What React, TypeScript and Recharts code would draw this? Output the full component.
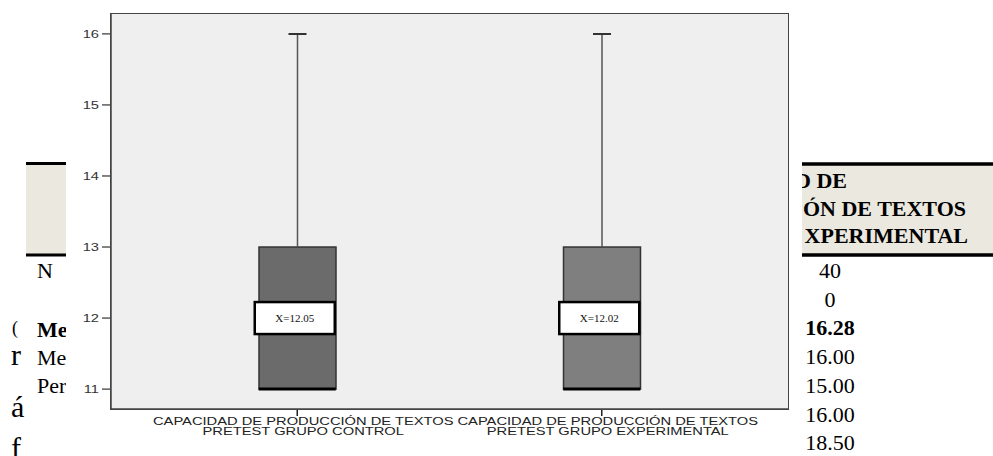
import React from "react";
import { ComposedChart, Bar, Line, XAxis, YAxis, CartesianGrid } from "recharts";

// boxplot values per group
const labelTop = ["CAPACIDAD DE PRODUCCIÓN DE TEXTOS", "CAPACIDAD DE PRODUCCIÓN DE TEXTOS"];
const labelBottom = ["PRETEST GRUPO CONTROL", "PRETEST GRUPO EXPERIMENTAL"];
const minimum = [11, 11];
const lowerQuartile = [11, 11];
const median = [11, 11];
const upperQuartile = [13, 13];
const maximum = [16, 16];
const means = [12.05, 12.02];
const yTicks = [11, 12, 13, 14, 15, 16];

// document text showing around the chart (cut by it)
const headerLines = ["D DE", "ÓN DE TEXTOS", "XPERIMENTAL"];
const tableValues = ["40", "0", "16.28", "16.00", "15.00", "16.00", "18.50"];
const rowLabels = ["Me", "Me", "Per"];
const sideLetters = ["(", "r", "á", "f"];

const boxFills = ["#6b6b6b", "#7f7f7f"];

const data = labelTop.map((t, i) => ({
  name: t + " " + labelBottom[i],
  pad: minimum[i],
  lower: lowerQuartile[i] - minimum[i],
  box: upperQuartile[i] - lowerQuartile[i],
  upper: maximum[i] - upperQuartile[i],
  median: median[i],
  mid: (lowerQuartile[i] + upperQuartile[i]) / 2,
}));

const XTick = (props: any) => {
  const { x, y, payload } = props;
  const i = payload.index;
  return (
    <g transform={`translate(${x + 6},${y})`}>
      <text transform="scale(1.28,1)" textAnchor="middle" y={7} fontSize={11.5} fontFamily="Liberation Sans" fill="#222">
        {labelTop[i]}
      </text>
      <text transform="scale(1.28,1)" textAnchor="middle" y={17} fontSize={11.5} fontFamily="Liberation Sans" fill="#222">
        {labelBottom[i]}
      </text>
    </g>
  );
};

const YTick = (props: any) => {
  const { x, y, payload } = props;
  return (
    <g transform={`translate(${x},${y})`}>
      <text transform="scale(1.4,1)" textAnchor="end" dy="0.36em" fontSize={10.5} fontFamily="Liberation Sans" fill="#333">
        {payload.value}
      </text>
    </g>
  );
};

const BoxShape = (props: any) => {
  const { x, y, width, height, index } = props;
  return <rect x={x} y={y} width={width} height={height} fill={boxFills[index]} stroke="#333" strokeWidth={1.5} />;
};

const UpperWhisker = (props: any) => {
  const { x, y, width, height } = props;
  const cx = x + width / 2;
  return (
    <g>
      <line x1={cx} x2={cx} y1={y + height} y2={y} stroke="#555" strokeWidth={1.5} />
      <line x1={cx - 9} x2={cx + 9} y1={y} y2={y} stroke="#333" strokeWidth={2} />
    </g>
  );
};

const LowerWhisker = (props: any) => {
  const { x, y, width, height } = props;
  if (!height) return null;
  const cx = x + width / 2;
  return (
    <g>
      <line x1={cx} x2={cx} y1={y} y2={y + height} stroke="#555" strokeWidth={1.5} />
      <line x1={cx - 9} x2={cx + 9} y1={y + height} y2={y + height} stroke="#333" strokeWidth={2} />
    </g>
  );
};

const MedianDot = (props: any) => {
  const { cx, cy, index } = props;
  if (cx == null || cy == null) return null;
  return <line key={`med-${index}`} x1={cx - 38.5} x2={cx + 38.5} y1={cy} y2={cy} stroke="#000" strokeWidth={3} />;
};

const MeanLabel = (props: any) => {
  const { cx, cy, index } = props;
  if (cx == null || cy == null) return null;
  return (
    <g key={`mean-${index}`}>
      <rect x={cx - 42.5} y={cy - 16} width={80} height={32} fill="#fff" stroke="#000" strokeWidth={2.5} />
      <text x={cx - 2.5} y={cy} dy="0.35em" textAnchor="middle" fontFamily="Liberation Serif" fontSize={11} fill="#111">
        X={means[index].toFixed(2)}
      </text>
    </g>
  );
};

const Background = () => (
  <svg width={993} height={456} style={{ position: "absolute", left: 0, top: 0 }} fontFamily="Liberation Serif">
    <rect x={26} y={163} width={60} height={92} fill="#ebe8df" />
    <line x1={26} x2={86} y1={163.5} y2={163.5} stroke="#000" strokeWidth={3} />
    <line x1={26} x2={86} y1={255} y2={255} stroke="#000" strokeWidth={3} />
    <rect x={790} y={163} width={203} height={92} fill="#ebe8df" />
    <line x1={790} x2={993} y1={164} y2={164} stroke="#000" strokeWidth={3.5} />
    <line x1={790} x2={993} y1={255} y2={255} stroke="#000" strokeWidth={3.5} />
    {headerLines.map((t, i) => (
      <text key={t} x={[847, 966, 968][i]} y={188 + i * 27.5} textAnchor="end" fontSize={22} fontWeight="bold" fill="#000">
        {t}
      </text>
    ))}
    {tableValues.map((v, i) => (
      <text key={i} x={830} y={278 + i * 28.7} textAnchor="middle" fontSize={22} fontWeight={i === 2 ? "bold" : "normal"} fill="#000">
        {v}
      </text>
    ))}
    <text x={37} y={278} fontSize={22} fill="#000">N</text>
    {rowLabels.map((t, i) => (
      <text key={i} x={37} y={337 + i * 28} fontSize={22} fontWeight={i === 0 ? "bold" : "normal"} fill="#000">
        {t}
      </text>
    ))}
    {sideLetters.map((t, i) => (
      <text key={i} x={i === 0 ? 12 : 11} y={[334, 365, 417, 458][i]} fontSize={i === 0 ? 18 : 30} fill="#000">
        {t}
      </text>
    ))}
  </svg>
);

export default function App() {
  const axisStroke = { stroke: "#444", strokeWidth: 1.5 };
  return (
    <div style={{ position: "absolute", left: 0, top: 0, width: 993, height: 456, background: "#fff", overflow: "hidden" }}>
      <Background />
      <div style={{ position: "absolute", left: 66, top: 0, width: 736, height: 456, background: "#fff" }}>
        <ComposedChart width={736} height={456} data={data} margin={{ top: 14, right: 14, bottom: 0, left: 0 }}>
          <CartesianGrid fill="#efefef" stroke="none" horizontal={false} vertical={false} />
          <XAxis
            dataKey="name"
            type="category"
            padding={{ left: 34, right: 34 }}
            height={47}
            tickSize={7}
            tickMargin={2}
            interval={0}
            tick={<XTick />}
            axisLine={axisStroke}
            tickLine={{ stroke: "#222", strokeWidth: 1.5 }}
          />
          <YAxis
            type="number"
            domain={[10.72, 16.28]}
            allowDataOverflow
            ticks={yTicks}
            width={45}
            tickSize={9}
            tickMargin={3}
            tick={<YTick />}
            axisLine={axisStroke}
            tickLine={{ stroke: "#333", strokeWidth: 1.2 }}
          />
          <Bar stackId="b" dataKey="pad" fill="none" barSize={77} isAnimationActive={false} />
          <Bar stackId="b" dataKey="lower" shape={<LowerWhisker />} barSize={77} isAnimationActive={false} />
          <Bar stackId="b" dataKey="box" shape={<BoxShape />} barSize={77} isAnimationActive={false} />
          <Bar stackId="b" dataKey="upper" shape={<UpperWhisker />} barSize={77} isAnimationActive={false} />
          <Line dataKey="median" stroke="none" dot={<MedianDot />} activeDot={false} isAnimationActive={false} />
          <Line dataKey="mid" stroke="none" dot={<MeanLabel />} activeDot={false} isAnimationActive={false} />
        </ComposedChart>
        {/* plot frame */}
        <div
          style={{
            position: "absolute",
            left: 44.25,
            top: 13.25,
            width: 678.5,
            height: 396.5,
            border: "1.5px solid #444",
            boxSizing: "border-box",
            pointerEvents: "none",
          }}
        />
      </div>
    </div>
  );
}
